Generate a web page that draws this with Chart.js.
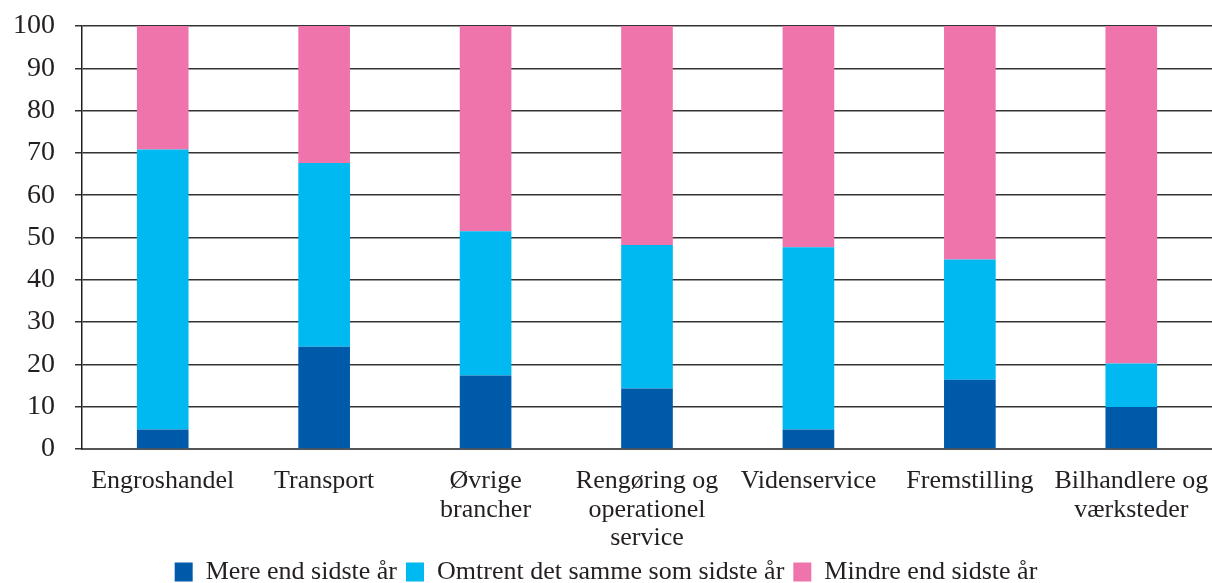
<!DOCTYPE html>
<html>
<head>
<meta charset="utf-8">
<script src="https://cdn.jsdelivr.net/npm/chart.js@4.4.0/dist/chart.umd.min.js"></script>
<style>
  html, body { margin: 0; padding: 0; background: #fff; }
  #wrap { width: 1212px; height: 583px; position: relative; }
</style>
</head>
<body>
<div id="wrap"><canvas id="chart"></canvas></div>
<script>
// categories and series (percent of firms)
const categories = [
    'Engroshandel',
    'Transport',
    ['Øvrige', 'brancher'],
    ['Rengøring og', 'operationel', 'service'],
    'Videnservice',
    'Fremstilling',
    ['Bilhandlere og', 'værksteder']
];
const mere = [4.6, 24.2, 17.4, 14.3, 4.6, 16.4, 9.9];
const omtrent = [66.2, 43.4, 34.1, 33.9, 43.1, 28.4, 10.3];
const mindre = [29.2, 32.4, 48.5, 51.8, 52.3, 55.2, 79.8];
const yTicks = [0, 10, 20, 30, 40, 50, 60, 70, 80, 90, 100];

const serif = "'Liberation Serif', 'Times New Roman', serif";
const ink = '#231F20';

const ctx = document.getElementById('chart').getContext('2d');
const chart = new Chart(ctx, {
    type: 'bar',
    data: {
        labels: categories,
        datasets: [
            { label: 'Mere end sidste år', data: mere, backgroundColor: '#005AAA' },
            { label: 'Omtrent det samme som sidste år', data: omtrent, backgroundColor: '#00B9F1' },
            { label: 'Mindre end sidste år', data: mindre, backgroundColor: '#F074AC' }
        ]
    },
    options: {
        responsive: true,
        maintainAspectRatio: false,
        animation: false,
        datasets: {
            bar: { categoryPercentage: 1, barPercentage: 0.32, borderWidth: 0 }
        },
        // legend sits tight against the bottom edge in the original
        layout: { padding: { top: 26, right: 0, left: 0, bottom: -12 } },
        plugins: {
            tooltip: { enabled: false },
            legend: {
                position: 'bottom',
                labels: {
                    color: ink,
                    font: { family: serif, size: 26 },
                    boxWidth: 18,
                    boxHeight: 19,
                    padding: 9
                }
            }
        },
        scales: {
            x: {
                stacked: true,
                afterFit: scale => {
                    scale.height = 101;
                    scale.paddingLeft = 0;
                    scale.paddingRight = 0;
                },
                grid: { display: false },
                border: { display: true, color: '#555', width: 2 },
                ticks: {
                    color: ink,
                    font: { family: serif, size: 26, lineHeight: 1.1 },
                    maxRotation: 0,
                    autoSkip: false,
                    padding: 10
                }
            },
            y: {
                stacked: true,
                min: 0,
                max: 100,
                afterBuildTicks: scale => {
                    scale.ticks = yTicks.map(v => ({ value: v }));
                },
                afterFit: scale => {
                    scale.width = 82;
                    scale.paddingTop = 0;
                    scale.paddingBottom = 0;
                },
                grid: { color: '#333', lineWidth: 1.5, tickLength: 7, drawTicks: true },
                border: { display: true, color: ink, width: 1.5 },
                ticks: {
                    color: ink,
                    font: { family: serif, size: 28 },
                    padding: 20
                }
            }
        }
    }
});
</script>
</body>
</html>
